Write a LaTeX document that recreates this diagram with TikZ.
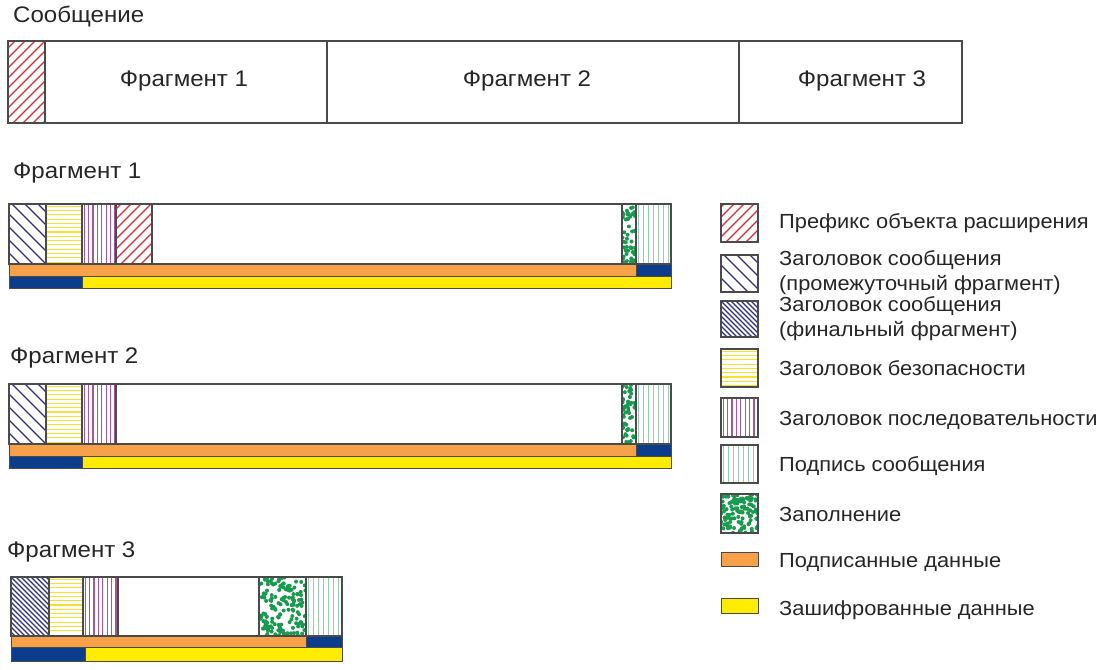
\documentclass[tikz,border=0pt]{standalone}
\usepackage{fontspec}
\setmainfont[FakeStretch=1.07]{Liberation Sans}
\definecolor{bordc}{HTML}{4A4A4A}
\definecolor{redh}{HTML}{E02A34}
\definecolor{blueh}{HTML}{2E2E88}
\definecolor{yelh}{HTML}{F8E030}
\definecolor{purh}{HTML}{A8559A}
\definecolor{grnh}{HTML}{96CEAE}
\definecolor{dotc}{HTML}{1A9A4E}
\definecolor{orangec}{HTML}{F7A14A}
\definecolor{navyc}{HTML}{0B3D8C}
\definecolor{yellowc}{HTML}{FFEC00}
\tikzset{
  cellb/.style={draw=bordc, line width=1.2pt},
  hl/.style={line width=1.3pt},
  hlt/.style={line width=1.1pt},
  barb/.style={draw=bordc, line width=0.8pt},
  ttl/.style={font=\fontsize{22.5}{26}\selectfont, anchor=base west, inner sep=0pt, text=black!85},
  inl/.style={font=\fontsize{22.5}{26}\selectfont, anchor=base, inner sep=0pt, text=black!85},
  lgt/.style={font=\fontsize{20.4}{24}\selectfont, anchor=base west, inner sep=0pt, text=black!85},
}
% "/" lines
\newcommand{\hfwd}[6]{\begin{scope}\clip (#1,#2) rectangle (#3,#4);
  \foreach \i in {0,...,40} \draw[hl,#6] ({#1-75+\i*#5},#4) -- ++(90,-90);\end{scope}}
% "\" lines
\newcommand{\hbwd}[6]{\begin{scope}\clip (#1,#2) rectangle (#3,#4);
  \foreach \i in {0,...,40} \draw[hl,#6] ({#1-75+\i*#5},#2) -- ++(90,90);\end{scope}}
% horizontal lines
\newcommand{\hhor}[6]{\begin{scope}\clip (#1,#2) rectangle (#3,#4);
  \foreach \i in {0,...,20} \draw[hlt,#6] (#1,{#2+#5/2+\i*#5}) -- (#3,{#2+#5/2+\i*#5});\end{scope}}
% vertical lines
\newcommand{\hver}[6]{\begin{scope}\clip (#1,#2) rectangle (#3,#4);
  \foreach \i in {0,...,20} \draw[hlt,#6] ({#1+#5/2+\i*#5},#2) -- ({#1+#5/2+\i*#5},#4);\end{scope}}
% dots
\newcommand{\speckle}[5]{\begin{scope}\clip (#1,#2) rectangle (#3,#4);
  \foreach \i in {1,...,#5} {\pgfmathsetmacro{\px}{#1+rnd*(#3-#1)}\pgfmathsetmacro{\py}{#2+rnd*(#4-#2)}
  \fill[dotc] (\px,\py) circle (2pt);}\end{scope}}
\newcommand{\pRed}[4]{\hfwd{#1}{#2}{#3}{#4}{10}{redh}}
\newcommand{\pBlue}[4]{\hbwd{#1}{#2}{#3}{#4}{13}{blueh}}
\newcommand{\pBlueD}[4]{\hbwd{#1}{#2}{#3}{#4}{5}{blueh}}
\newcommand{\pYel}[4]{\hhor{#1}{#2}{#3}{#4}{4.3}{yelh}}
\newcommand{\pPur}[4]{\hver{#1}{#2}{#3}{#4}{4.4}{purh}}
\newcommand{\pSig}[4]{\hver{#1}{#2}{#3}{#4}{5}{grnh}}
\begin{document}
\begin{tikzpicture}[x=1pt,y=-1pt]
\pgfmathsetseed{7}
\useasboundingbox (0,0) rectangle (1102,669);
\fill[white] (0,0) rectangle (1102,669);

% ---- message
\node[ttl] (tmsg) at (13,23) {Сообщение};
\pRed{8}{41}{45}{123}
\draw[cellb] (8,41) rectangle (962,123);
\foreach \x in {45,327,739} \draw[cellb] (\x,41) -- (\x,123);
\node[inl] (m1) at (184,86) {Фрагмент 1};
\node[inl] (m2) at (527,86) {Фрагмент 2};
\node[inl] (m3) at (862,86) {Фрагмент 3};

% ---- fragment 1
\node[ttl] (tf1) at (13,178) {Фрагмент 1};
\pBlue{9}{204}{46}{264}
\pYel{46}{204}{82}{264}
\pPur{82}{204}{116}{264}
\pRed{116}{204}{152}{264}
\speckle{622}{204}{636}{264}{48}
\pSig{636}{204}{671}{264}
\draw[cellb] (9,204) rectangle (671,264);
\foreach \x in {46,82,116,152,622,636} \draw[cellb] (\x,204) -- (\x,264);
\draw[barb,fill=orangec] (9,264) rectangle (636,276);
\draw[barb,fill=navyc] (636,264) rectangle (671,276);
\draw[barb,fill=navyc] (9,276) rectangle (82,288);
\draw[barb,fill=yellowc] (82,276) rectangle (671,288);

% ---- fragment 2
\node[ttl] (tf2) at (10,363) {Фрагмент 2};
\pBlue{9}{384}{46}{444}
\pYel{46}{384}{82}{444}
\pPur{82}{384}{116}{444}
\speckle{622}{384}{636}{444}{48}
\pSig{636}{384}{671}{444}
\draw[cellb] (9,384) rectangle (671,444);
\foreach \x in {46,82,116,622,636} \draw[cellb] (\x,384) -- (\x,444);
\draw[barb,fill=orangec] (9,444) rectangle (636,456);
\draw[barb,fill=navyc] (636,444) rectangle (671,456);
\draw[barb,fill=navyc] (9,456) rectangle (82,468);
\draw[barb,fill=yellowc] (82,456) rectangle (671,468);

% ---- fragment 3
\node[ttl] (tf3) at (7,557) {Фрагмент 3};
\pBlueD{11}{577}{49}{636}
\pYel{49}{577}{83}{636}
\pPur{83}{577}{118}{636}
\speckle{259}{577}{306}{636}{150}
\pSig{306}{577}{342}{636}
\draw[cellb] (11,577) rectangle (342,636);
\foreach \x in {49,83,118,259,306} \draw[cellb] (\x,577) -- (\x,636);
\draw[barb,fill=orangec] (11,636) rectangle (306,647);
\draw[barb,fill=navyc] (306,636) rectangle (342,647);
\draw[barb,fill=navyc] (11,647) rectangle (85,661);
\draw[barb,fill=yellowc] (85,647) rectangle (342,661);

% ---- legend
\pRed{721}{204}{758}{242}
\draw[cellb] (721,204) rectangle (758,242);
\node[lgt] (l1) at (779,228) {Префикс объекта расширения};

\pBlue{721}{255}{758}{292}
\draw[cellb] (721,255) rectangle (758,292);
\node[lgt] (l2a) at (779,265) {Заголовок сообщения};
\node[lgt] (l2b) at (779,290) {(промежуточный фрагмент)};

\pBlueD{721}{301}{758}{337}
\draw[cellb] (721,301) rectangle (758,337);
\node[lgt] (l3a) at (779,311) {Заголовок сообщения};
\node[lgt] (l3b) at (779,336) {(финальный фрагмент)};

\pYel{721}{349}{758}{387}
\draw[cellb] (721,349) rectangle (758,387);
\node[lgt] (l4) at (779,375) {Заголовок безопасности};

\pPur{721}{398}{758}{437}
\draw[cellb] (721,398) rectangle (758,437);
\node[lgt] (l5) at (779,425) {Заголовок последовательности};

\pSig{721}{445}{758}{483}
\draw[cellb] (721,445) rectangle (758,483);
\node[lgt] (l6) at (779,471) {Подпись сообщения};

\speckle{721}{494}{758}{533}{115}
\draw[cellb] (721,494) rectangle (758,533);
\node[lgt] (l7) at (779,521) {Заполнение};

\draw[barb,fill=orangec] (721,552) rectangle (758,566);
\node[lgt] (l8) at (779,567) {Подписанные данные};

\draw[barb,fill=yellowc] (721,598) rectangle (758,613);
\node[lgt] (l9) at (779,615) {Зашифрованные данные};
\end{tikzpicture}
\end{document}
